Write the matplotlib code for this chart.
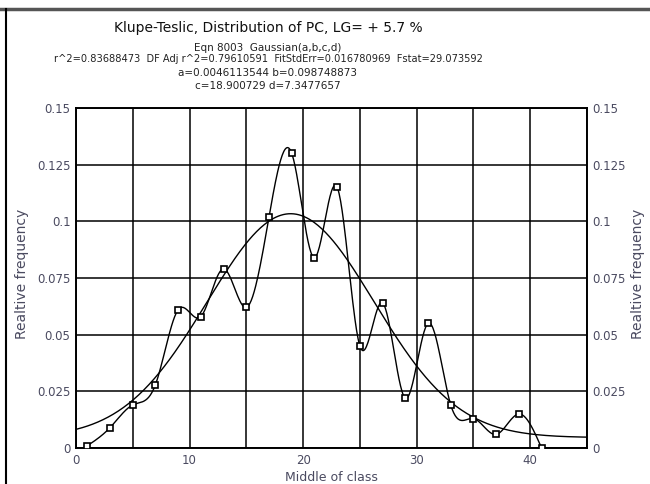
import numpy as np
import matplotlib
matplotlib.use('Agg')
import matplotlib.pyplot as plt
from matplotlib.ticker import MultipleLocator, FuncFormatter

plt.rcParams['font.family'] = ['DejaVu Sans']

# class middles and relative frequencies
x_class = [1, 3, 5, 7, 9, 11, 13, 15, 17, 19, 21, 23, 25, 27, 29, 31, 33, 35, 37, 39, 41]
rel_freq = [0.001, 0.009, 0.019, 0.028, 0.061, 0.058, 0.079, 0.062, 0.102, 0.130, 0.084,
            0.115, 0.045, 0.064, 0.022, 0.055, 0.019, 0.013, 0.006, 0.015, 0.0]

# Gaussian(a,b,c,d) fit parameters
a, b, c, d = 0.0046113544, 0.098748873, 18.900729, 7.3477657

x_max = 45
y_max = 0.15
label_col = '#4a4a60'


def natural_spline(xs, ys, xnew):
    # plain natural cubic spline, just for the smooth look of the data line
    xs = np.asarray(xs, float)
    ys = np.asarray(ys, float)
    n = len(xs)
    h = np.diff(xs)
    A = np.zeros((n, n))
    r = np.zeros(n)
    A[0, 0] = A[-1, -1] = 1
    for i in range(1, n - 1):
        A[i, i - 1] = h[i - 1]
        A[i, i] = 2 * (h[i - 1] + h[i])
        A[i, i + 1] = h[i]
        r[i] = 6 * ((ys[i + 1] - ys[i]) / h[i] - (ys[i] - ys[i - 1]) / h[i - 1])
    M = np.linalg.solve(A, r)
    idx = np.clip(np.searchsorted(xs, xnew) - 1, 0, n - 2)
    x0, x1 = xs[idx], xs[idx + 1]
    hh = x1 - x0
    t0, t1 = x1 - xnew, xnew - x0
    return (M[idx] * t0 ** 3 + M[idx + 1] * t1 ** 3) / (6 * hh) + \
        (ys[idx] / hh - M[idx] * hh / 6) * t0 + (ys[idx + 1] / hh - M[idx + 1] * hh / 6) * t1


fig = plt.figure(figsize=(6.5, 4.84), dpi=100)
ax = fig.add_axes([76 / 650, 1 - 448 / 484, 511 / 650, 340 / 484])

# window frame lines from the screenshot
fig.add_artist(plt.Line2D([0, 1], [1 - 9 / 484, 1 - 9 / 484], color='#555555', lw=2.5))
fig.add_artist(plt.Line2D([6 / 650, 6 / 650], [0, 1 - 9 / 484], color='black', lw=1.5))

# data, smoothed
xs = np.linspace(x_class[0], x_class[-1], 600)
ax.plot(xs, natural_spline(x_class, rel_freq, xs), color='black', lw=1.0, zorder=3)
ax.plot([x_class[-1], x_max], [rel_freq[-1], rel_freq[-1]], color='black', lw=1.0, zorder=3)
ax.plot(x_class, rel_freq, ls='none', marker='s', ms=4.3, mfc='white', mec='black',
        mew=1.2, zorder=4)

# fitted Gaussian
xf = np.linspace(0, x_max, 400)
ax.plot(xf, a + b * np.exp(-0.5 * ((xf - c) / d) ** 2), color='black', lw=1.0, zorder=3)

ax.set_xlim(0, x_max)
ax.set_ylim(0, y_max)
ax.xaxis.set_major_locator(MultipleLocator(10))
ax.xaxis.set_minor_locator(MultipleLocator(5))
ax.yaxis.set_major_locator(MultipleLocator(0.025))
ax.grid(True, which='both', color='black', lw=1.1)
ax.set_axisbelow(True)
for s in ax.spines.values():
    s.set_linewidth(1.4)

fmt = FuncFormatter(lambda v, p: ('%.3f' % v).rstrip('0').rstrip('.'))
ax.yaxis.set_major_formatter(fmt)
ax.tick_params(which='both', length=0, labelsize=8.5, labelcolor=label_col, pad=4)
ax.tick_params(axis='y', right=True, labelright=True)
ax.set_xlabel('Middle of class', fontsize=9, color=label_col, labelpad=3)

fig.text(22 / 650, 1 - 274 / 484, 'Realtive frequency', rotation=90, ha='center',
         va='center', fontsize=10, color=label_col)
fig.text(638 / 650, 1 - 274 / 484, 'Realtive frequency', rotation=90, ha='center',
         va='center', fontsize=10, color=label_col)

cx = 268 / 650
fig.text(cx, 1 - 28 / 484, 'Klupe-Teslic, Distribution of PC, LG= + 5.7 %', ha='center',
         va='center', fontsize=10, color='#111111')
fig.text(cx, 1 - 48 / 484, 'Eqn 8003  Gaussian(a,b,c,d)', ha='center', va='center',
         fontsize=7.5, color='#222222')
fig.text(cx, 1 - 59 / 484,
         'r^2=0.83688473  DF Adj r^2=0.79610591  FitStdErr=0.016780969  Fstat=29.073592',
         ha='center', va='center', fontsize=7.1, color='#222222')
fig.text(cx, 1 - 73 / 484, 'a=0.0046113544 b=0.098748873', ha='center', va='center',
         fontsize=7.5, color='#222222')
fig.text(cx, 1 - 86 / 484, 'c=18.900729 d=7.3477657', ha='center', va='center',
         fontsize=7.5, color='#222222')

fig.savefig('out.png', dpi=100)
